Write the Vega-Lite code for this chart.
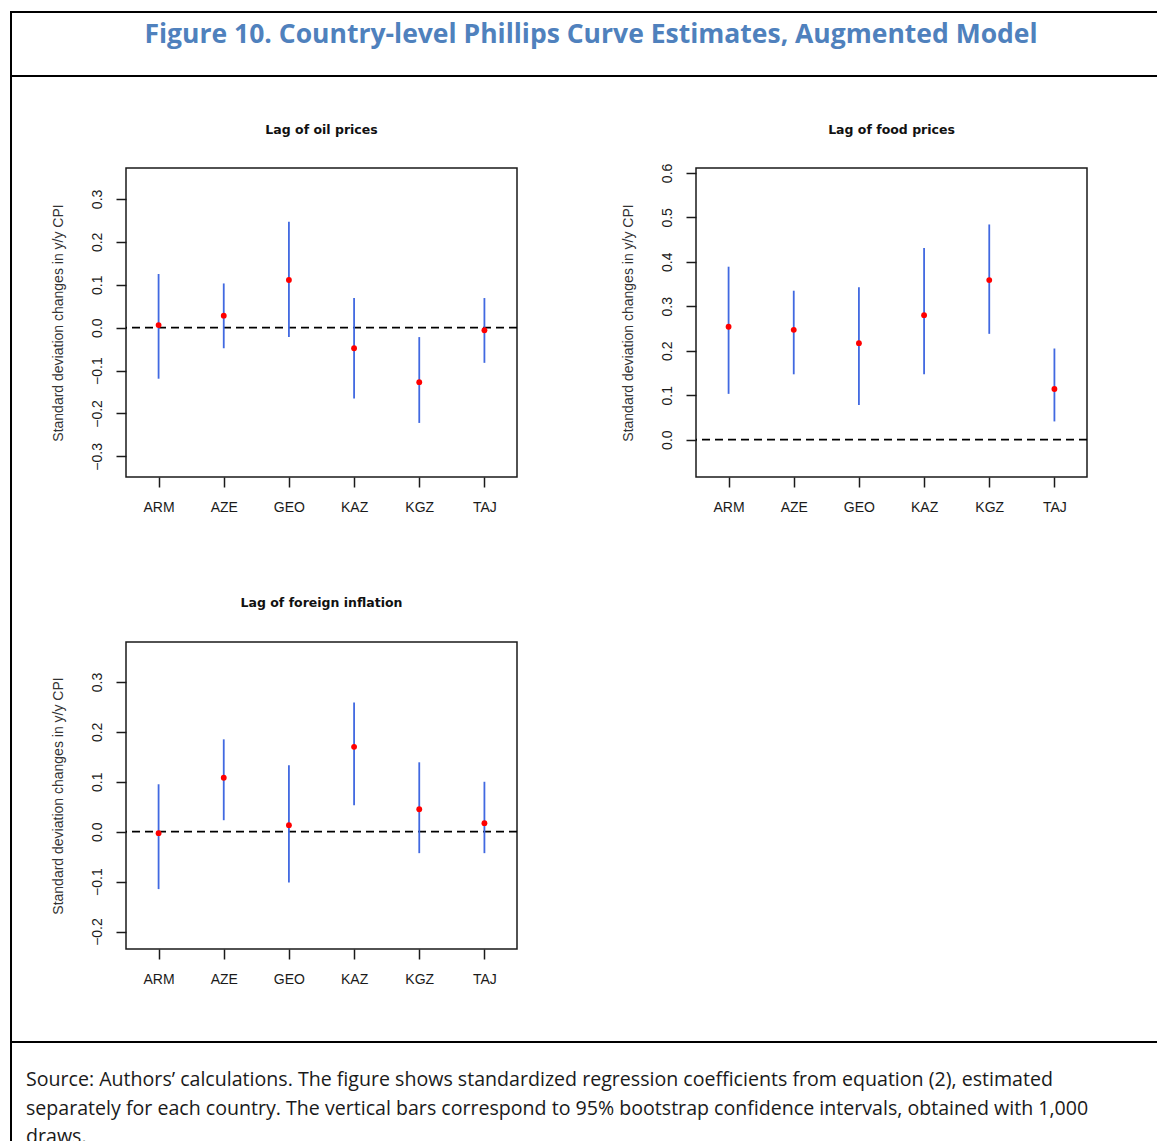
{
  "$schema": "https://vega.github.io/schema/vega-lite/v6.json",
  "usermeta": {"embedOptions": {"actions": false}},
  "background": "white",
  "padding": {"left": 10, "top": 11, "right": 0, "bottom": 0},
  "datasets": {
    "oil": [
      {"country": "ARM", "est": 0.006, "lo": -0.119, "hi": 0.125},
      {"country": "AZE", "est": 0.028, "lo": -0.048, "hi": 0.103},
      {"country": "GEO", "est": 0.111, "lo": -0.022, "hi": 0.247},
      {"country": "KAZ", "est": -0.048, "lo": -0.165, "hi": 0.069},
      {"country": "KGZ", "est": -0.127, "lo": -0.222, "hi": -0.022},
      {"country": "TAJ", "est": -0.006, "lo": -0.082, "hi": 0.069}
    ],
    "food": [
      {"country": "ARM", "est": 0.254, "lo": 0.103, "hi": 0.389},
      {"country": "AZE", "est": 0.247, "lo": 0.147, "hi": 0.335},
      {"country": "GEO", "est": 0.217, "lo": 0.078, "hi": 0.343},
      {"country": "KAZ", "est": 0.280, "lo": 0.147, "hi": 0.431},
      {"country": "KGZ", "est": 0.359, "lo": 0.238, "hi": 0.484},
      {"country": "TAJ", "est": 0.114, "lo": 0.041, "hi": 0.205}
    ],
    "foreign": [
      {"country": "ARM", "est": -0.003, "lo": -0.115, "hi": 0.095},
      {"country": "AZE", "est": 0.108, "lo": 0.023, "hi": 0.185},
      {"country": "GEO", "est": 0.013, "lo": -0.102, "hi": 0.133},
      {"country": "KAZ", "est": 0.170, "lo": 0.053, "hi": 0.259},
      {"country": "KGZ", "est": 0.045, "lo": -0.043, "hi": 0.139},
      {"country": "TAJ", "est": 0.017, "lo": -0.043, "hi": 0.100}
    ]
  },
  "spacing": -2,
  "vconcat": [
    {
      "width": 1152,
      "height": 64,
      "view": {"stroke": "#000000", "strokeWidth": 2},
      "data": {"values": [{"label": "Figure 10. Country-level Phillips Curve Estimates, Augmented Model"}]},
      "mark": {"type": "text", "font": "Open Sans", "fontSize": 26.5, "fontWeight": "bold", "color": "#4F81BD", "dx": 4, "dy": -9},
      "encoding": {"text": {"field": "label", "type": "nominal"}}
    },
    {
      "spacing": 37,
      "hconcat": [
        {
          "width": 0.01,
          "height": 964,
          "view": {"stroke": "#000000", "strokeWidth": 2},
          "data": {"values": []},
          "mark": "point"
        },
        {
          "spacing": 0,
          "vconcat": [
            {
              "width": 1,
              "height": 45,
              "view": {"stroke": null},
              "data": {"values": []},
              "mark": "point"
            },
            {
              "columns": 2,
              "bounds": "flush",
              "spacing": {"row": 165, "column": 179},
              "concat": [
                {
                  "width": 391,
                  "height": 309,
                  "title": {"text": "Lag of oil prices"},
                  "data": {"name": "oil"},
                  "layer": [
                    {
                      "data": {"values": [{"ref": 0}]},
                      "mark": {"type": "rule", "color": "#000000", "strokeWidth": 1.8, "strokeDash": [8, 5]},
                      "encoding": {"y": {"field": "ref", "type": "quantitative", "scale": {"domain": [-0.348, 0.372], "nice": false, "zero": false}, "axis": {"values": [-0.3, -0.2, -0.1, 0, 0.1, 0.2, 0.3], "format": ".1f"}, "title": "Standard deviation changes in y/y CPI"}}
                    },
                    {
                      "mark": {"type": "rule", "color": "#4169E1", "strokeWidth": 1.8},
                      "encoding": {
                        "x": {"field": "country", "type": "nominal", "sort": null, "scale": {"type": "point", "padding": 0.5, "domain": ["ARM", "AZE", "GEO", "KAZ", "KGZ", "TAJ"]}, "title": null},
                        "y": {"field": "lo", "type": "quantitative", "scale": {"domain": [-0.348, 0.372], "nice": false, "zero": false}, "axis": {"values": [-0.3, -0.2, -0.1, 0, 0.1, 0.2, 0.3], "format": ".1f"}, "title": "Standard deviation changes in y/y CPI"},
                        "y2": {"field": "hi"}
                      }
                    },
                    {
                      "mark": {"type": "circle", "color": "#FF0000", "size": 34, "opacity": 1},
                      "encoding": {
                        "x": {"field": "country", "type": "nominal", "sort": null, "scale": {"type": "point", "padding": 0.5, "domain": ["ARM", "AZE", "GEO", "KAZ", "KGZ", "TAJ"]}, "title": null},
                        "y": {"field": "est", "type": "quantitative", "scale": {"domain": [-0.348, 0.372], "nice": false, "zero": false}, "axis": {"values": [-0.3, -0.2, -0.1, 0, 0.1, 0.2, 0.3], "format": ".1f"}, "title": "Standard deviation changes in y/y CPI"}
                      }
                    }
                  ]
                },
                {
                  "width": 391,
                  "height": 309,
                  "title": {"text": "Lag of food prices", "offset": 27},
                  "data": {"name": "food"},
                  "layer": [
                    {
                      "data": {"values": [{"ref": 0}]},
                      "mark": {"type": "rule", "color": "#000000", "strokeWidth": 1.8, "strokeDash": [8, 5]},
                      "encoding": {"y": {"field": "ref", "type": "quantitative", "scale": {"domain": [-0.084, 0.611], "nice": false, "zero": false}, "axis": {"values": [0, 0.1, 0.2, 0.3, 0.4, 0.5, 0.6], "format": ".1f"}, "title": "Standard deviation changes in y/y CPI"}}
                    },
                    {
                      "mark": {"type": "rule", "color": "#4169E1", "strokeWidth": 1.8},
                      "encoding": {
                        "x": {"field": "country", "type": "nominal", "sort": null, "scale": {"type": "point", "padding": 0.5, "domain": ["ARM", "AZE", "GEO", "KAZ", "KGZ", "TAJ"]}, "title": null},
                        "y": {"field": "lo", "type": "quantitative", "scale": {"domain": [-0.084, 0.611], "nice": false, "zero": false}, "axis": {"values": [0, 0.1, 0.2, 0.3, 0.4, 0.5, 0.6], "format": ".1f"}, "title": "Standard deviation changes in y/y CPI"},
                        "y2": {"field": "hi"}
                      }
                    },
                    {
                      "mark": {"type": "circle", "color": "#FF0000", "size": 34, "opacity": 1},
                      "encoding": {
                        "x": {"field": "country", "type": "nominal", "sort": null, "scale": {"type": "point", "padding": 0.5, "domain": ["ARM", "AZE", "GEO", "KAZ", "KGZ", "TAJ"]}, "title": null},
                        "y": {"field": "est", "type": "quantitative", "scale": {"domain": [-0.084, 0.611], "nice": false, "zero": false}, "axis": {"values": [0, 0.1, 0.2, 0.3, 0.4, 0.5, 0.6], "format": ".1f"}, "title": "Standard deviation changes in y/y CPI"}
                      }
                    }
                  ]
                },
                {
                  "width": 391,
                  "height": 307,
                  "title": {"text": "Lag of foreign inflation", "offset": 33},
                  "data": {"name": "foreign"},
                  "layer": [
                    {
                      "data": {"values": [{"ref": 0}]},
                      "mark": {"type": "rule", "color": "#000000", "strokeWidth": 1.8, "strokeDash": [8, 5]},
                      "encoding": {"y": {"field": "ref", "type": "quantitative", "scale": {"domain": [-0.235, 0.38], "nice": false, "zero": false}, "axis": {"values": [-0.2, -0.1, 0, 0.1, 0.2, 0.3], "format": ".1f"}, "title": "Standard deviation changes in y/y CPI"}}
                    },
                    {
                      "mark": {"type": "rule", "color": "#4169E1", "strokeWidth": 1.8},
                      "encoding": {
                        "x": {"field": "country", "type": "nominal", "sort": null, "scale": {"type": "point", "padding": 0.5, "domain": ["ARM", "AZE", "GEO", "KAZ", "KGZ", "TAJ"]}, "title": null},
                        "y": {"field": "lo", "type": "quantitative", "scale": {"domain": [-0.235, 0.38], "nice": false, "zero": false}, "axis": {"values": [-0.2, -0.1, 0, 0.1, 0.2, 0.3], "format": ".1f"}, "title": "Standard deviation changes in y/y CPI"},
                        "y2": {"field": "hi"}
                      }
                    },
                    {
                      "mark": {"type": "circle", "color": "#FF0000", "size": 34, "opacity": 1},
                      "encoding": {
                        "x": {"field": "country", "type": "nominal", "sort": null, "scale": {"type": "point", "padding": 0.5, "domain": ["ARM", "AZE", "GEO", "KAZ", "KGZ", "TAJ"]}, "title": null},
                        "y": {"field": "est", "type": "quantitative", "scale": {"domain": [-0.235, 0.38], "nice": false, "zero": false}, "axis": {"values": [-0.2, -0.1, 0, 0.1, 0.2, 0.3], "format": ".1f"}, "title": "Standard deviation changes in y/y CPI"}
                      }
                    }
                  ]
                }
              ]
            }
          ]
        }
      ]
    },
    {
      "width": 1152,
      "height": 110,
      "view": {"stroke": "#000000", "strokeWidth": 2},
      "title": {
        "text": [
          "Source: Authors’ calculations. The figure shows standardized regression coefficients from equation (2), estimated",
          "separately for each country. The vertical bars correspond to 95% bootstrap confidence intervals, obtained with 1,000",
          "draws."
        ],
        "anchor": "start",
        "frame": "group",
        "orient": "top",
        "baseline": "top",
        "offset": -106,
        "dx": 15,
        "font": "Open Sans",
        "fontSize": 19.6,
        "fontWeight": "normal",
        "color": "#1a1a1a",
        "lineHeight": 28.5
      },
      "data": {"values": []},
      "mark": "point"
    }
  ],
  "config": {
    "font": "Liberation Sans",
    "concat": {"spacing": 0},
    "view": {"stroke": "#1a1a1a", "strokeWidth": 1.5},
    "axis": {
      "domain": false,
      "grid": false,
      "tickColor": "#1a1a1a",
      "tickWidth": 1.5,
      "tickSize": 10,
      "labelFont": "Liberation Sans",
      "labelFontSize": 14,
      "labelColor": "#1a1a1a",
      "labelOverlap": false,
      "titleFont": "Liberation Sans",
      "titleFontSize": 14,
      "titleFontWeight": "normal",
      "titleColor": "#333333"
    },
    "axisY": {
      "labelAngle": -90,
      "labelAlign": "center",
      "labelBaseline": "bottom",
      "labelPadding": 12,
      "titlePadding": 25
    },
    "axisX": {
      "labelAngle": 0,
      "labelBaseline": "top",
      "labelPadding": 13
    },
    "title": {
      "font": "DejaVu Sans",
      "fontSize": 12.5,
      "fontWeight": "bold",
      "color": "#111111",
      "offset": 32,
      "baseline": "bottom",
      "anchor": "middle",
      "frame": "group"
    }
  }
}
